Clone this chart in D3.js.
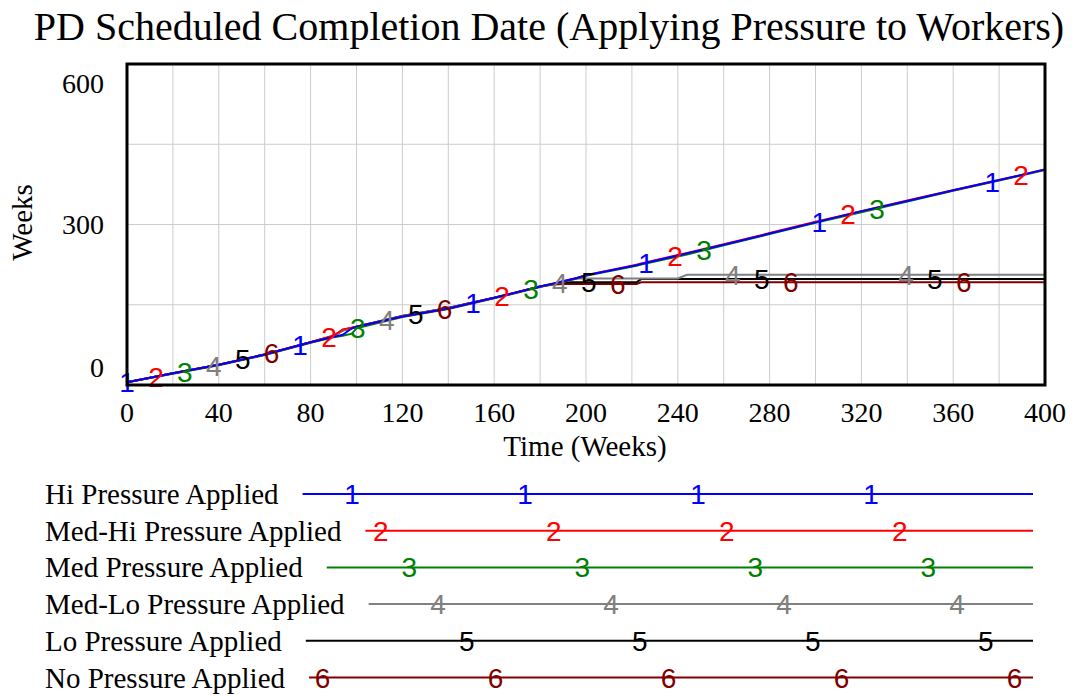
<!DOCTYPE html>
<html>
<head>
<meta charset="utf-8">
<script src="https://cdn.jsdelivr.net/npm/d3@7"></script>
<style>
  body { margin: 0; background: #fff; }
  text { font-family: "Liberation Serif", "Times New Roman", serif; fill: #000; }
  .num { font-family: "Liberation Sans", Arial, sans-serif; }
</style>
</head>
<body>
<div id="chart"></div>
<script>
// Data (weeks on x, scheduled completion date in weeks on y)
const weeks = [0, 20, 40, 60, 80, 90, 94, 98, 100, 120, 140, 160, 180, 186, 190, 196, 200, 222, 224, 240, 244, 260, 280, 300, 320, 340, 360, 380, 400];
const hiPressure    = [5, 22, 38, 57, 80, 90, 94, 106, 109, 128, 143, 163, 184, 190, 194, 200, 205, 224, 226, 242, 246, 262, 283, 304, 325, 344, 364, 383, 403];
const medHiPressure = [5, 22, 38, 57, 80, 92, 104, 107, 109, 128, 143, 163, 184, 190, 194, 200, 205, 225, 227, 243, 247, 263, 284, 305, 325, 345, 364, 383, 403];
const medPressure   = [5, 21, 37, 56, 79, 89, 92, 96, 106, 127, 142, 162, 183, 189, 193, 199, 204, 223, 225, 240, 244, 261, 282, 303, 323, 343, 363, 382, 402];
const medLoPressure = [5, 22, 38, 57, 80, 91, 102, 106, 109, 129, 144, 163, 184, 189, 193, 199, 199, 199, 199, 199, 206, 206, 206, 206, 206, 206, 206, 206, 206];
const loPressure    = [5, 22, 38, 57, 80, 91, 102, 106, 109, 129, 144, 163, 184, 189, 192, 192, 192, 192, 198, 198, 198, 198, 198, 198, 198, 198, 198, 198, 198];
const noPressure    = [5, 22, 38, 57, 80, 92, 103, 107, 109, 129, 144, 163, 184, 188, 189, 189, 189, 189, 192, 192, 192, 192, 192, 192, 192, 192, 192, 192, 192];

const seriesNames = ['Hi Pressure Applied', 'Med-Hi Pressure Applied', 'Med Pressure Applied',
                     'Med-Lo Pressure Applied', 'Lo Pressure Applied', 'No Pressure Applied'];
const seriesValues = [hiPressure, medHiPressure, medPressure, medLoPressure, loPressure, noPressure];
const seriesColors = ['#0000ff', '#ff0000', '#008000', '#808080', '#000000', '#800000'];

const xTicks = [0, 40, 80, 120, 160, 200, 240, 280, 320, 360, 400];
const yTicks = [0, 300, 600];

// Dimensions
const width = 1073;
const height = 696;
const margin = {top: 64, right: 28, bottom: 311, left: 127};
const innerW = width - margin.left - margin.right;
const innerH = height - margin.top - margin.bottom;

const svg = d3.select('#chart').append('svg').attr('width', width).attr('height', height);

const x = d3.scaleLinear().domain([0, 400]).range([0, innerW]);
const y = d3.scaleLinear().domain([0, 600]).range([innerH, 0]);

const plot = svg.append('g').attr('transform', `translate(${margin.left},${margin.top})`);

// Grid
plot.append('g').selectAll('line.vgrid').data(d3.range(20, 400, 20)).enter().append('line')
    .attr('x1', d => x(d)).attr('x2', d => x(d)).attr('y1', 0).attr('y2', innerH)
    .attr('stroke', '#cccccc').attr('stroke-width', 1);
plot.append('g').selectAll('line.hgrid').data([150, 300, 450]).enter().append('line')
    .attr('x1', 0).attr('x2', innerW).attr('y1', d => y(d)).attr('y2', d => y(d))
    .attr('stroke', '#cccccc').attr('stroke-width', 1);

// Lines (blue ends up on top)
const line = d3.line().x(d => x(d[0])).y(d => y(d[1]));
const order = [5, 4, 3, 2, 1, 0];
order.forEach(i => {
    const pts = weeks.map((w, j) => [w, seriesValues[i][j]]);
    plot.append('path').datum(pts)
        .attr('d', line)
        .attr('fill', 'none')
        .attr('stroke', seriesColors[i])
        .attr('stroke-width', 2);
});

// Series numbers along lines
order.forEach(i => {
    const interp = d3.scaleLinear().domain(weeks).range(seriesValues[i]);
    const spots = d3.range(i * 12.6, 401, 75.4);
    plot.append('g').selectAll('text').data(spots).enter().append('text')
        .attr('class', 'num')
        .attr('x', d => x(d))
        .attr('y', d => y(interp(d)))
        .attr('dy', '0.36em')
        .attr('text-anchor', 'middle')
        .attr('font-size', 28)
        .style('fill', seriesColors[i])
        .text(i + 1);
});

// Frame
plot.append('rect').attr('x', 0).attr('y', 0).attr('width', innerW).attr('height', innerH)
    .attr('fill', 'none').attr('stroke', '#000').attr('stroke-width', 3);

// Axis labels
svg.append('g').selectAll('text').data(xTicks).enter().append('text')
    .attr('x', d => margin.left + x(d))
    .attr('y', margin.top + innerH + 37)
    .attr('text-anchor', 'middle')
    .attr('font-size', 28)
    .text(d => d);

svg.append('g').selectAll('text').data(yTicks).enter().append('text')
    .attr('x', 104)
    .attr('y', d => margin.top + Math.min(Math.max(y(d), 19), innerH - 18))
    .attr('dy', '0.35em')
    .attr('text-anchor', 'end')
    .attr('font-size', 28)
    .text(d => d);

svg.append('text')
    .attr('transform', `translate(32,${margin.top + innerH / 2 - 2}) rotate(-90)`)
    .attr('text-anchor', 'middle')
    .attr('font-size', 29)
    .text('Weeks');

svg.append('text')
    .attr('x', margin.left + innerW / 2 - 1)
    .attr('y', 456)
    .attr('text-anchor', 'middle')
    .attr('font-size', 29)
    .text('Time (Weeks)');

// Title
svg.append('text')
    .attr('x', 549)
    .attr('y', 40)
    .attr('text-anchor', 'middle')
    .attr('font-size', 40)
    .text('PD Scheduled Completion Date (Applying Pressure to Workers)');

// Legend
const legendTop = 494;
const legendStep = 36.7;
const legendEnd = 1033;
seriesNames.forEach((name, i) => {
    const ly = legendTop + i * legendStep;
    const label = svg.append('text')
        .attr('x', 45).attr('y', ly + 10)
        .attr('font-size', 29)
        .text(name);
    const start = 45 + label.node().getComputedTextLength() + 24;
    svg.append('line')
        .attr('x1', start).attr('x2', legendEnd).attr('y1', ly).attr('y2', ly)
        .attr('stroke', seriesColors[i]).attr('stroke-width', 2);
    const marks = d3.range(179 + i * 28.7, legendEnd, 173).filter(d => d >= start);
    svg.append('g').selectAll('text').data(marks).enter().append('text')
        .attr('class', 'num')
        .attr('x', d => d).attr('y', ly).attr('dy', '0.36em')
        .attr('text-anchor', 'middle')
        .attr('font-size', 28)
        .style('fill', seriesColors[i])
        .text(i + 1);
});
</script>
</body>
</html>
